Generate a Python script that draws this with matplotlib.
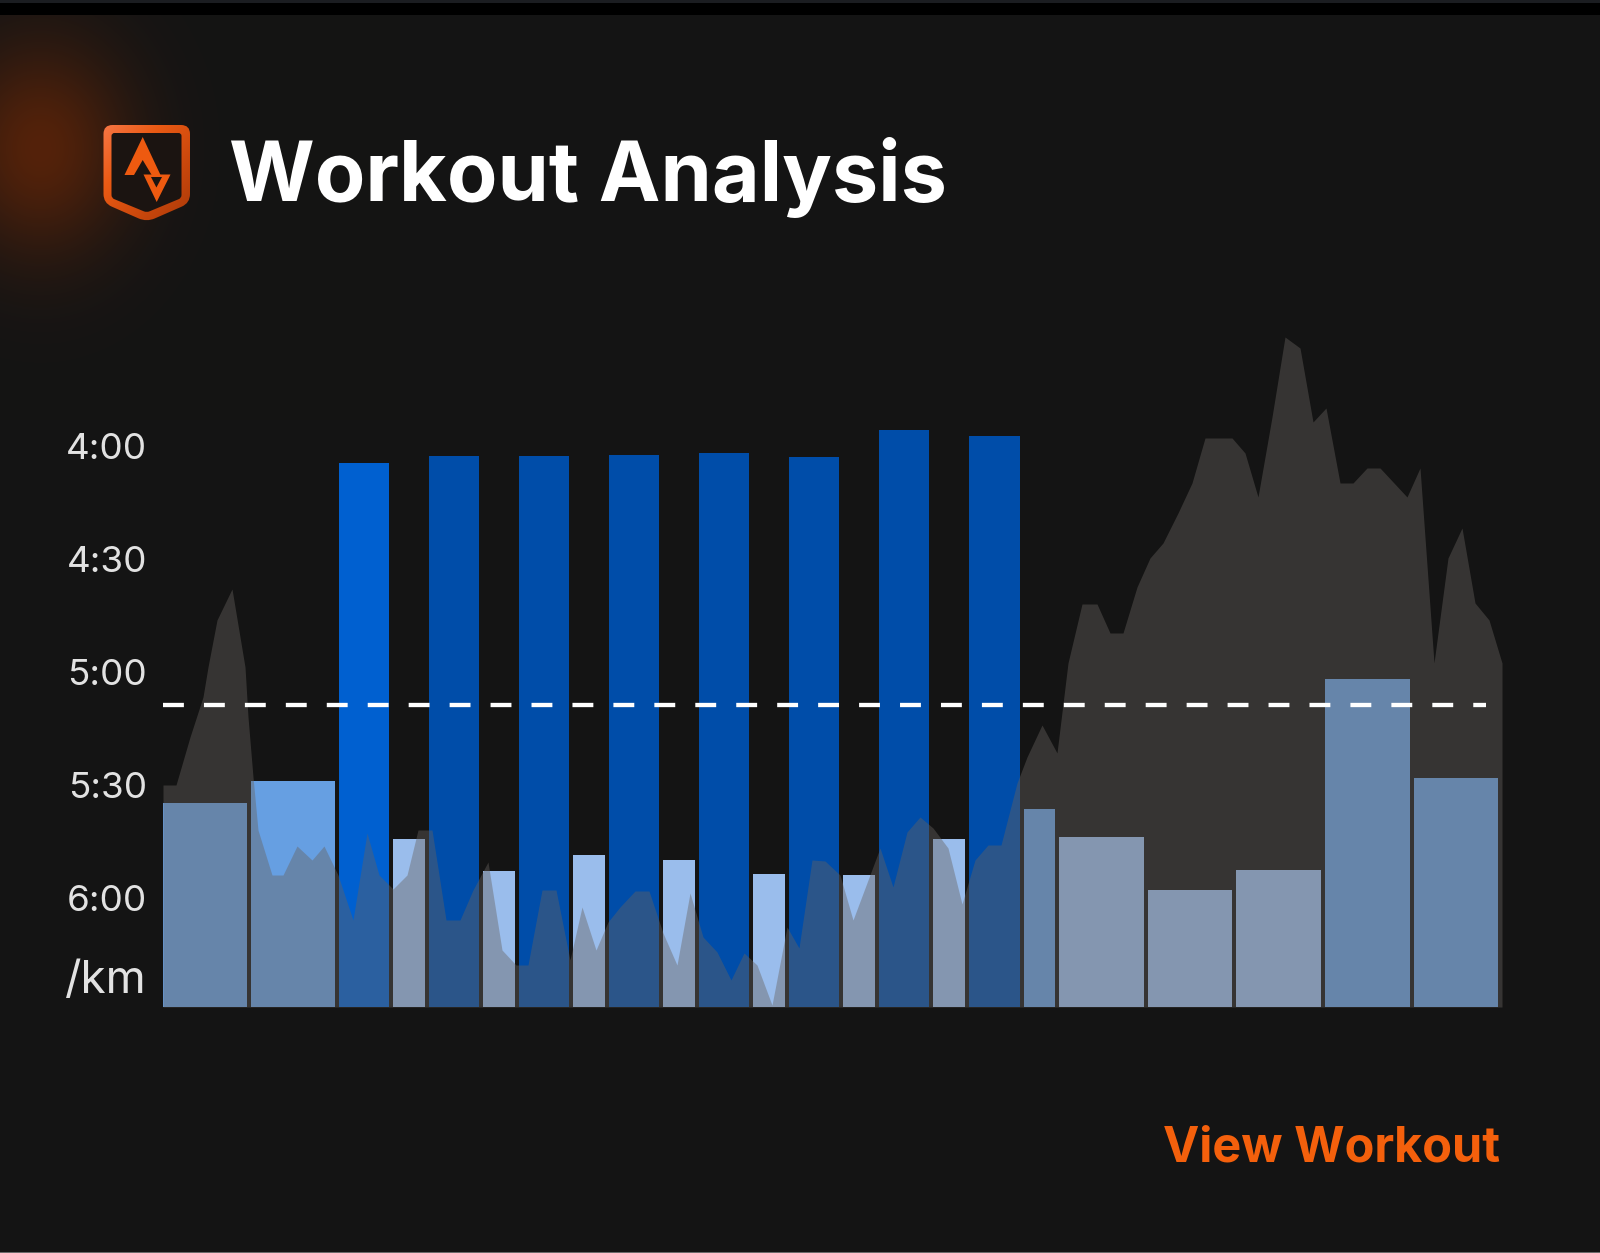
import numpy as np
import matplotlib
matplotlib.use('Agg')
import matplotlib.pyplot as plt
from matplotlib.colors import LinearSegmentedColormap
from matplotlib.patches import PathPatch, Polygon, Rectangle
from matplotlib.path import Path

# splits: length on the distance axis and pace in seconds per km
split_length = [88, 88, 53.8, 36.2, 53.8, 36.2, 53.8, 36.2, 53.8, 36.2, 53.8, 36.2, 53.8, 36.2,
                53.8, 36.2, 54.5, 35.5, 88.5, 88.5, 88.5, 89.5, 88]
split_pace = [334.8, 328.9, 244.5, 344.3, 242.7, 352.8, 242.7, 348.6, 242.4, 349.9,
              241.9, 353.6, 242.9, 353.9, 235.8, 344.3, 237.3, 336.4, 343.8, 357.9,
              352.6, 301.9, 328.1]
split_kind = ['easy', 'easy', 'first', 'rest', 'fast', 'rest', 'fast', 'rest', 'fast', 'rest',
              'fast', 'rest', 'fast', 'rest', 'fast', 'rest', 'fast', 'easy', 'rest', 'rest',
              'rest', 'easy', 'easy']
target_pace = 308.8

# elevation profile
elev_dist = [0, 13, 27, 40, 45, 54, 69, 82, 85, 90, 95, 109, 120, 134, 149, 161, 175, 190,
             204, 216, 230, 244, 255, 269, 283, 297, 310, 325, 339, 353, 365, 379, 393,
             407, 419, 433, 445, 457, 472, 486, 500, 514, 527, 540, 554, 568, 581, 594,
             609, 624, 636, 649, 662, 677, 690, 717, 730, 744, 757, 770, 785, 799, 812,
             825, 838, 854, 864, 879, 894, 905, 919, 934, 947, 960, 974, 987, 1000, 1015,
             1029, 1042, 1069, 1082, 1095, 1109, 1122, 1137, 1150, 1163, 1177, 1190, 1204,
             1217, 1244, 1257, 1271, 1285, 1299, 1312, 1326, 1339]
elev_height = [222, 222, 270, 310, 340, 387, 418, 340, 290, 230, 177, 132, 132, 161, 147, 161,
               132, 87, 174, 132, 118, 132, 177, 177, 87, 87, 117, 145, 57, 42, 42, 117, 117,
               47, 100, 57, 85, 100, 116, 116, 74, 42, 114, 70, 55, 27, 54, 42, 2, 80, 59, 147,
               146, 132, 87, 159, 120, 175, 190, 179, 159, 103, 147, 162, 162, 224, 250, 282,
               254, 344, 403, 403, 374, 374, 420, 449, 464, 494, 524, 569, 569, 554, 510, 590,
               670, 659, 585, 599, 524, 524, 539, 539, 510, 539, 344, 449, 479, 404, 387, 344]

pace_ticks = [240, 270, 300, 330, 360, 381]
pace_labels = ['4:00', '4:30', '5:00', '5:30', '6:00', '/km']

BG = '#141414'
colors = {'easy': '#669FE2', 'rest': '#9ABDEC', 'fast': '#004DA9', 'first': '#0060D0'}
W, H = 1600, 1253

plt.rcParams['font.family'] = ['Inter', 'DejaVu Sans']
fig = plt.figure(figsize=(W / 100, H / 100), dpi=100, facecolor=BG)

# page layer in pixel coordinates: glow, strips, logo
bg = fig.add_axes([0, 0, 1, 1])
bg.axis('off')

yy, xx = np.mgrid[0:420, 0:400]
fall = np.exp(-((xx - 40) / 88.0) ** 2 - ((yy - 148) / 105.0) ** 2)[..., None]
glow = np.array([20, 20, 20]) + (np.array([84, 34, 10]) - np.array([20, 20, 20])) * fall
bg.imshow(glow / 255, extent=(0, 400, 420, 0), zorder=0, aspect='auto', interpolation='bilinear')
bg.add_patch(Rectangle((0, 0), W, 15, color='#000000', lw=0, zorder=1))
bg.add_patch(Rectangle((0, 0), W, 3, color='#1b1d21', lw=0, zorder=1))
bg.add_patch(Rectangle((0, H - 1.5), W, 1.5, color='#6a6a6a', lw=0, zorder=1))


def rounded(pts, r):
    verts, codes = [], []
    n = len(pts)
    for i in range(n):
        p = np.array(pts[i], float)
        a = np.array(pts[i - 1], float)
        b = np.array(pts[(i + 1) % n], float)
        p1 = p + (a - p) / np.linalg.norm(a - p) * r
        p2 = p + (b - p) / np.linalg.norm(b - p) * r
        verts += [p1, p, p2]
        codes += [Path.MOVETO if i == 0 else Path.LINETO, Path.CURVE3, Path.CURVE3]
    verts.append(verts[0])
    codes.append(Path.CLOSEPOLY)
    return Path(verts, codes)


outer = rounded([(103.5, 125), (190, 125), (190, 203), (146.7, 222), (103.5, 203)], 9)
inner = rounded([(111.5, 133), (181.5, 133), (181.5, 198), (146.7, 212.5), (111.5, 198)], 3)
shield_cmap = LinearSegmentedColormap.from_list('shield', ['#F8794A', '#EA5A14', '#C9470C', '#A63809'])
gx, gy = np.meshgrid(np.linspace(0, 1, 60), np.linspace(0, 1, 60))
im = bg.imshow((gx + gy) / 2, cmap=shield_cmap, extent=(100, 194, 226, 121), zorder=2, aspect='auto')
outer_patch = PathPatch(outer, fc='none', ec='none')
bg.add_patch(outer_patch)
im.set_clip_path(outer_patch)
bg.set_xlim(0, W)
bg.set_ylim(H, 0)
bg.add_patch(PathPatch(inner, fc='#1b1411', ec='none', zorder=3))
bg.add_patch(Polygon([(142.7, 137), (160.5, 175), (151.7, 175), (142.7, 160), (134, 175), (124.5, 175)],
                     fc='#EE5A10', ec='none', zorder=4))
bg.add_patch(Polygon([(143.5, 174.5), (170.5, 174.5), (156.7, 202)], fc='#EE5A10', ec='none', zorder=4))
bg.add_patch(Polygon([(151, 177), (162, 177), (156.4, 187.5)], fc='#1b1411', ec='none', zorder=5))

bg.text(229, 201, 'Workout Analysis', color='white', fontsize=59.5, fontweight='bold',
        ha='left', va='baseline')
bg.text(1500, 1161, 'View Workout', color='#F4600C', fontsize=35, fontweight='bold',
        ha='right', va='baseline')

# pace bars
ax = fig.add_axes([163 / W, (H - 1007) / H, 1339 / W, 687 / H])
ax.patch.set_alpha(0)
base_pace = 389
starts = np.concatenate([[0], np.cumsum(split_length)[:-1]])
ax.bar(starts, np.array(split_pace) - base_pace, bottom=base_pace,
       width=np.array(split_length) - 4, align='edge',
       color=[colors[k] for k in split_kind], lw=0)
ax.set_xlim(0, 1339)
ax.set_ylim(base_pace, 206.55)
ax.set_xticks([])
ax.set_yticks(pace_ticks)
ax.set_yticklabels(pace_labels)
ax.tick_params(axis='y', length=0, pad=11.5, labelsize=26.5, labelcolor='#E2E2E2')
ax.get_yticklabels()[-1].set_fontsize(33)
for s in ax.spines.values():
    s.set_visible(False)

# elevation on top of the bars, target line on top of that
ax2 = ax.twinx()
ax2.patch.set_alpha(0)
ax2.fill_between(elev_dist, elev_height, 0, color='#67625E', alpha=0.42, lw=0)
ax2.set_ylim(0, 687)
ax2.set_yticks([])
for s in ax2.spines.values():
    s.set_visible(False)
ax2.plot([0, 1323], [target_pace, target_pace], transform=ax.transData, color='white',
         lw=3.1, dashes=(4.85, 4.66))

fig.savefig('out.png', dpi=100, facecolor=BG)
